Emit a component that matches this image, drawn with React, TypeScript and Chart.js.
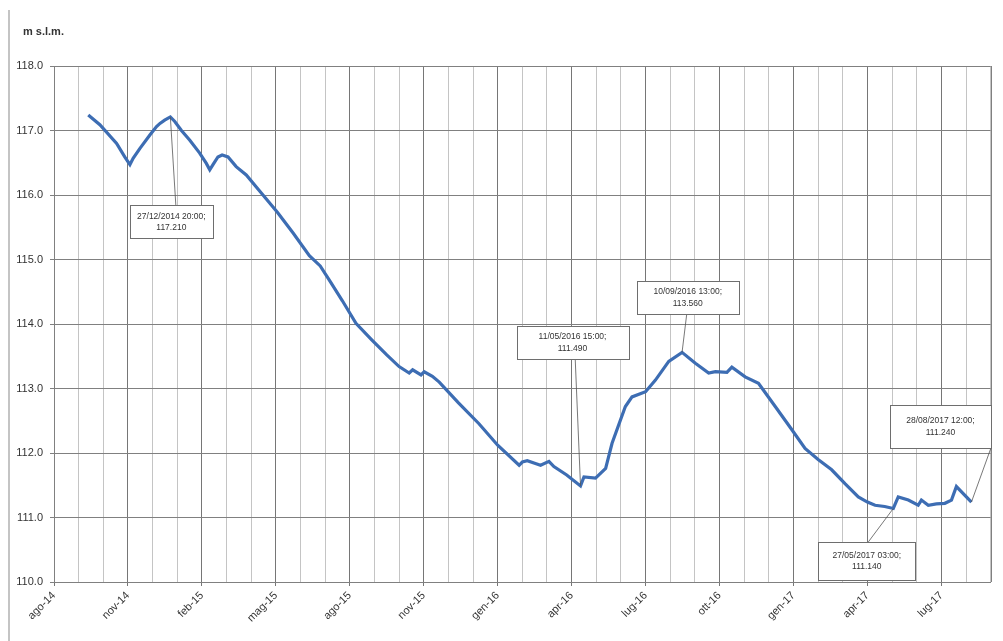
import React, { useEffect, useRef } from 'react';
import { Chart, registerables } from 'chart.js';

Chart.register(...registerables);

// x-axis tick labels (one every 3 months)
const tickLabels = ['ago-14', 'nov-14', 'feb-15', 'mag-15', 'ago-15', 'nov-15', 'gen-16', 'apr-16', 'lug-16', 'ott-16', 'gen-17', 'apr-17', 'lug-17'];

// time, in months from the start of the axis
const monthsFromStart = [
  1.39, 1.86, 2.54, 2.87, 3.08, 3.21, 3.48, 3.89, 4.16, 4.3, 4.49, 4.72, 4.9, 5.17, 5.51, 5.91, 6.18, 6.32,
  6.45, 6.65, 6.82, 7.06, 7.39, 7.8, 8.3, 9.07, 9.7, 10.36, 10.8, 11.17, 11.7, 12.25, 12.9, 13.5, 14.0,
  14.41, 14.55, 14.89, 15.02, 15.35, 15.63, 16.4, 17.25, 18.0, 18.87, 19.0, 19.2, 19.5, 19.74, 20.08,
  20.28, 20.8, 21.36, 21.5, 21.97, 22.38, 22.64, 23.18, 23.45, 24.0, 24.4, 24.94, 25.48, 26.02, 26.56,
  26.83, 27.3, 27.5, 28.04, 28.58, 29.26, 29.9, 30.47, 31.0, 31.55, 32.1, 32.63, 33.0, 33.31, 33.7,
  34.05, 34.25, 34.66, 35.06, 35.19, 35.47, 35.8, 36.14, 36.41, 36.61, 37.22,
];

// water level, m s.l.m.
const levels = [
  117.24, 117.09, 116.8, 116.59, 116.47, 116.57, 116.72, 116.93, 117.06, 117.11, 117.16, 117.21, 117.14, 117.0, 116.85, 116.65, 116.49, 116.39,
  116.47, 116.59, 116.62, 116.59, 116.44, 116.31, 116.08, 115.73, 115.41, 115.06, 114.9, 114.68, 114.36, 114.01, 113.75, 113.52, 113.34,
  113.24, 113.29, 113.21, 113.26, 113.19, 113.1, 112.78, 112.45, 112.12, 111.81, 111.86, 111.88, 111.84, 111.81, 111.87,
  111.79, 111.66, 111.49, 111.63, 111.61, 111.76, 112.15, 112.72, 112.87, 112.95, 113.13, 113.42, 113.56, 113.39, 113.24,
  113.26, 113.25, 113.33, 113.18, 113.08, 112.72, 112.38, 112.07, 111.9, 111.74, 111.52, 111.32, 111.24, 111.19, 111.17,
  111.14, 111.32, 111.27, 111.19, 111.27, 111.19, 111.21, 111.22, 111.27, 111.48, 111.24,
];

// annotation callouts: anchor (data), text, box placement (px offsets from anchor)
const calloutMonths = [4.72, 21.36, 25.48, 34.05, 37.22];
const calloutLevels = [117.21, 111.49, 113.56, 111.14, 111.24];
const calloutTexts = [
  ['27/12/2014 20:00;', '117.210'],
  ['11/05/2016 15:00;', '111.490'],
  ['10/09/2016 13:00;', '113.560'],
  ['27/05/2017 03:00;', '111.140'],
  ['28/08/2017 12:00;', '111.240'],
];
const calloutBoxes = [
  { dx: 1, dy: 105, w: 83, h: 33, lx: 4.5, ly: -16.5 },
  { dx: -8, dy: -143.5, w: 112, h: 33, lx: 2.7, ly: 16.5 },
  { dx: 5.7, dy: -55, w: 102, h: 33, lx: -1, ly: 16.5 },
  { dx: -26.5, dy: 52.5, w: 97, h: 38, lx: 1.5, ly: -19 },
  { dx: -31, dy: -75.5, w: 101, h: 43, lx: 50.5, ly: 21.5 },
];

const FONT = '"Liberation Sans", Arial, sans-serif';

const decorPlugin = {
  id: 'decor',
  beforeDatasetsDraw(chart: any) {
    const { ctx, chartArea: a } = chart;
    ctx.save();
    ctx.strokeStyle = '#808080';
    ctx.lineWidth = 1;
    ctx.beginPath();
    ctx.moveTo(Math.round(a.right) + 0.5, a.top);
    ctx.lineTo(Math.round(a.right) + 0.5, a.bottom);
    ctx.stroke();
    // outer frame line on the left
    ctx.strokeStyle = '#c4c4c4';
    ctx.lineWidth = 2;
    ctx.beginPath();
    ctx.moveTo(9, 10);
    ctx.lineTo(9, chart.height);
    ctx.stroke();
    ctx.restore();
  },
  afterDatasetsDraw(chart: any) {
    const { ctx } = chart;
    const xs = chart.scales.x;
    const ys = chart.scales.y;
    ctx.save();
    // axis unit title
    ctx.fillStyle = '#333';
    ctx.font = `bold 11px ${FONT}`;
    ctx.textAlign = 'left';
    ctx.textBaseline = 'middle';
    ctx.fillText('m s.l.m.', 23, 32);

    calloutMonths.forEach((m, i) => {
      const px = xs.getPixelForValue(m);
      const py = ys.getPixelForValue(calloutLevels[i]);
      const b = calloutBoxes[i];
      const cx = px + b.dx;
      const cy = py + b.dy;
      // leader
      ctx.strokeStyle = '#555';
      ctx.lineWidth = 0.8;
      ctx.beginPath();
      ctx.moveTo(px, py);
      ctx.lineTo(cx + b.lx, cy + b.ly);
      ctx.stroke();
      // box
      const x0 = Math.round(cx - b.w / 2) + 0.5;
      const y0 = Math.round(cy - b.h / 2) + 0.5;
      ctx.fillStyle = '#ffffff';
      ctx.fillRect(x0, y0, b.w, b.h);
      ctx.strokeStyle = '#6e6e6e';
      ctx.lineWidth = 1;
      ctx.strokeRect(x0, y0, b.w, b.h);
      ctx.fillStyle = '#333';
      ctx.font = `8.5px ${FONT}`;
      ctx.textAlign = 'center';
      ctx.textBaseline = 'middle';
      ctx.fillText(calloutTexts[i][0], cx, cy - 5.5);
      ctx.fillText(calloutTexts[i][1], cx, cy + 6);
    });
    ctx.restore();
  },
};

export default function App() {
  const ref = useRef<HTMLCanvasElement | null>(null);

  useEffect(() => {
    if (!ref.current) return;
    const points = monthsFromStart.map((m, i) => ({ x: m, y: levels[i] }));
    const chart = new Chart(ref.current, {
      type: 'line',
      data: {
        datasets: [
          {
            data: points,
            borderColor: '#3d6db3',
            borderWidth: 3.2,
            pointRadius: 0,
            tension: 0,
            fill: false,
          },
        ],
      },
      options: {
        animation: false,
        responsive: false,
        maintainAspectRatio: false,
        layout: { padding: { top: 66, right: 10, left: 0, bottom: 0 } },
        plugins: { legend: { display: false }, tooltip: { enabled: false } },
        scales: {
          x: {
            type: 'linear',
            min: 0,
            max: 38,
            afterFit: (s: any) => {
              s.height = 59;
            },
            border: { display: true, color: '#808080' },
            grid: {
              color: (c: any) => (c.tick && c.tick.value % 3 === 0 ? '#767676' : '#c4c4c4'),
              tickColor: (c: any) => (c.tick && c.tick.value % 3 === 0 ? '#767676' : 'rgba(0,0,0,0)'),
              tickLength: 4,
              lineWidth: 1,
            },
            ticks: {
              stepSize: 1,
              autoSkip: false,
              maxRotation: 45,
              minRotation: 45,
              padding: 3,
              color: '#333',
              font: { family: FONT, size: 11 },
              callback: (v: any) => (v % 3 === 0 ? tickLabels[v / 3] ?? '' : ''),
            },
          },
          y: {
            min: 110,
            max: 118,
            afterFit: (s: any) => {
              s.width = 54;
            },
            border: { display: true, color: '#808080' },
            grid: { color: '#808080', tickColor: '#808080', tickLength: 4, lineWidth: 1 },
            ticks: {
              stepSize: 1,
              padding: 7,
              color: '#333',
              font: { family: FONT, size: 11 },
              callback: (v: any) => Number(v).toFixed(1),
            },
          },
        },
      },
      plugins: [decorPlugin],
    });
    return () => chart.destroy();
  }, []);

  return (
    <div style={{ position: 'absolute', left: 0, top: 0, width: 1003, height: 641, background: '#fff' }}>
      <canvas ref={ref} width={1003} height={641} style={{ width: 1003, height: 641, display: 'block' }} />
    </div>
  );
}
